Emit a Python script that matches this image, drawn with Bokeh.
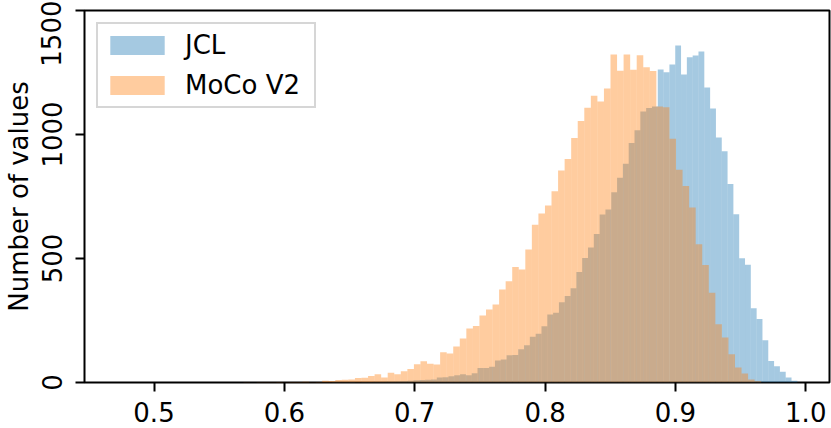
from bokeh.plotting import figure
from bokeh.models import Range1d, FixedTicker, Legend, LegendItem, NumeralTickFormatter
from bokeh.embed import file_html
from bokeh.resources import INLINE

# ---- data ----
jcl_label = "JCL"
moco_label = "MoCo V2"

# JCL histogram: 100 bins
jcl_first_edge = 0.54744
jcl_bin_width = 0.004461
jcl_counts = [
    0, 0, 0, 0, 0, 0, 0, 0, 0, 0,
    0, 0, 0, 0, 0, 0, 0, 0, 0, 0,
    1, 1, 1, 2, 1, 2, 2, 3, 3, 4,
    4, 5, 6, 7, 9, 10, 11, 12, 20, 21,
    25, 29, 33, 29, 37, 58, 58, 64, 89, 93,
    110, 111, 134, 150, 184, 197, 227, 274, 281, 324,
    349, 380, 446, 502, 544, 599, 677, 698, 767, 826,
    882, 966, 1017, 1093, 1107, 1113, 1262, 1251, 1282, 1359,
    1242, 1311, 1319, 1335, 1190, 1105, 988, 932, 800, 678,
    501, 475, 299, 256, 170, 87, 66, 43, 20, 7,
]

# MoCo V2 histogram: 100 bins
moco_first_edge = 0.46312
moco_bin_width = 0.005027
moco_counts = [
    0, 0, 0, 0, 0, 0, 0, 0, 0, 0,
    0, 0, 0, 0, 0, 0, 0, 0, 0, 0,
    0, 1, 0, 1, 1, 1, 2, 1, 2, 2,
    3, 1, 2, 7, 6, 10, 11, 12, 18, 19,
    26, 33, 20, 39, 33, 45, 54, 74, 86, 76,
    73, 122, 117, 145, 177, 218, 228, 270, 294, 315,
    375, 408, 466, 456, 536, 636, 681, 714, 771, 855,
    901, 986, 1054, 1108, 1156, 1133, 1185, 1323, 1257, 1323,
    1261, 1320, 1271, 1256, 1113, 1110, 983, 858, 792, 706,
    557, 474, 362, 235, 181, 114, 60, 36, 12, 5,
]

x_ticks = [0.5, 0.6, 0.7, 0.8, 0.9, 1.0]
y_ticks = [0, 500, 1000, 1500]
y_axis_title = "Number of values"

FONT = "DejaVu Sans"
FS = "26px"


def edges(first, width, n):
    left = [first + i * width for i in range(n)]
    right = [first + (i + 1) * width for i in range(n)]
    return left, right


p = figure(
    width=831, height=428,
    x_range=Range1d(0.44667, 1.01821),
    y_range=Range1d(0, 1500),
    output_backend="svg", toolbar_location=None,
    min_border_left=82, min_border_right=2,
    min_border_top=10, min_border_bottom=46,
)
p.background_fill_color = "white"
p.border_fill_color = "white"
p.outline_line_color = "black"
p.outline_line_width = 2
p.grid.visible = False

jl, jr = edges(jcl_first_edge, jcl_bin_width, len(jcl_counts))
ml, mr = edges(moco_first_edge, moco_bin_width, len(moco_counts))

r_jcl = p.quad(left=jl, right=jr, bottom=0, top=jcl_counts,
               fill_color="#1f77b4", fill_alpha=0.4, line_color=None)
r_moco = p.quad(left=ml, right=mr, bottom=0, top=moco_counts,
                fill_color="#ff7f0e", fill_alpha=0.4, line_color=None)

for ax in (p.xaxis[0], p.yaxis[0]):
    ax.axis_line_color = None
    ax.major_tick_line_color = "black"
    ax.major_tick_line_width = 2
    ax.major_tick_out = 9
    ax.major_tick_in = 0
    ax.minor_tick_line_color = None
    ax.major_label_text_font = FONT
    ax.major_label_text_font_size = FS
    ax.major_label_text_color = "black"

p.xaxis.ticker = FixedTicker(ticks=x_ticks)
p.xaxis.formatter = NumeralTickFormatter(format="0.0")
p.xaxis.major_label_standoff = 10

p.yaxis.ticker = FixedTicker(ticks=y_ticks)
p.yaxis.major_label_orientation = "vertical"
p.yaxis.major_label_standoff = 14
p.yaxis.axis_label = y_axis_title
p.yaxis.axis_label_text_font = FONT
p.yaxis.axis_label_text_font_size = FS
p.yaxis.axis_label_text_font_style = "normal"
p.yaxis.axis_label_text_color = "black"
p.yaxis.axis_label_standoff = 5

legend = Legend(
    items=[LegendItem(label=jcl_label, renderers=[r_jcl]),
           LegendItem(label=moco_label, renderers=[r_moco])],
    location=(12, 274),
    padding=5, spacing=8,
    glyph_width=68, glyph_height=24,
    label_standoff=14, label_width=124, label_height=32,
    label_text_font=FONT, label_text_font_size=FS, label_text_color="black",
    border_line_color="#cccccc", border_line_width=2, border_line_alpha=0.8,
    background_fill_color="white", background_fill_alpha=0.8,
    margin=0,
)
p.add_layout(legend, "center")

open("out.html", "w").write(file_html(p, INLINE))
